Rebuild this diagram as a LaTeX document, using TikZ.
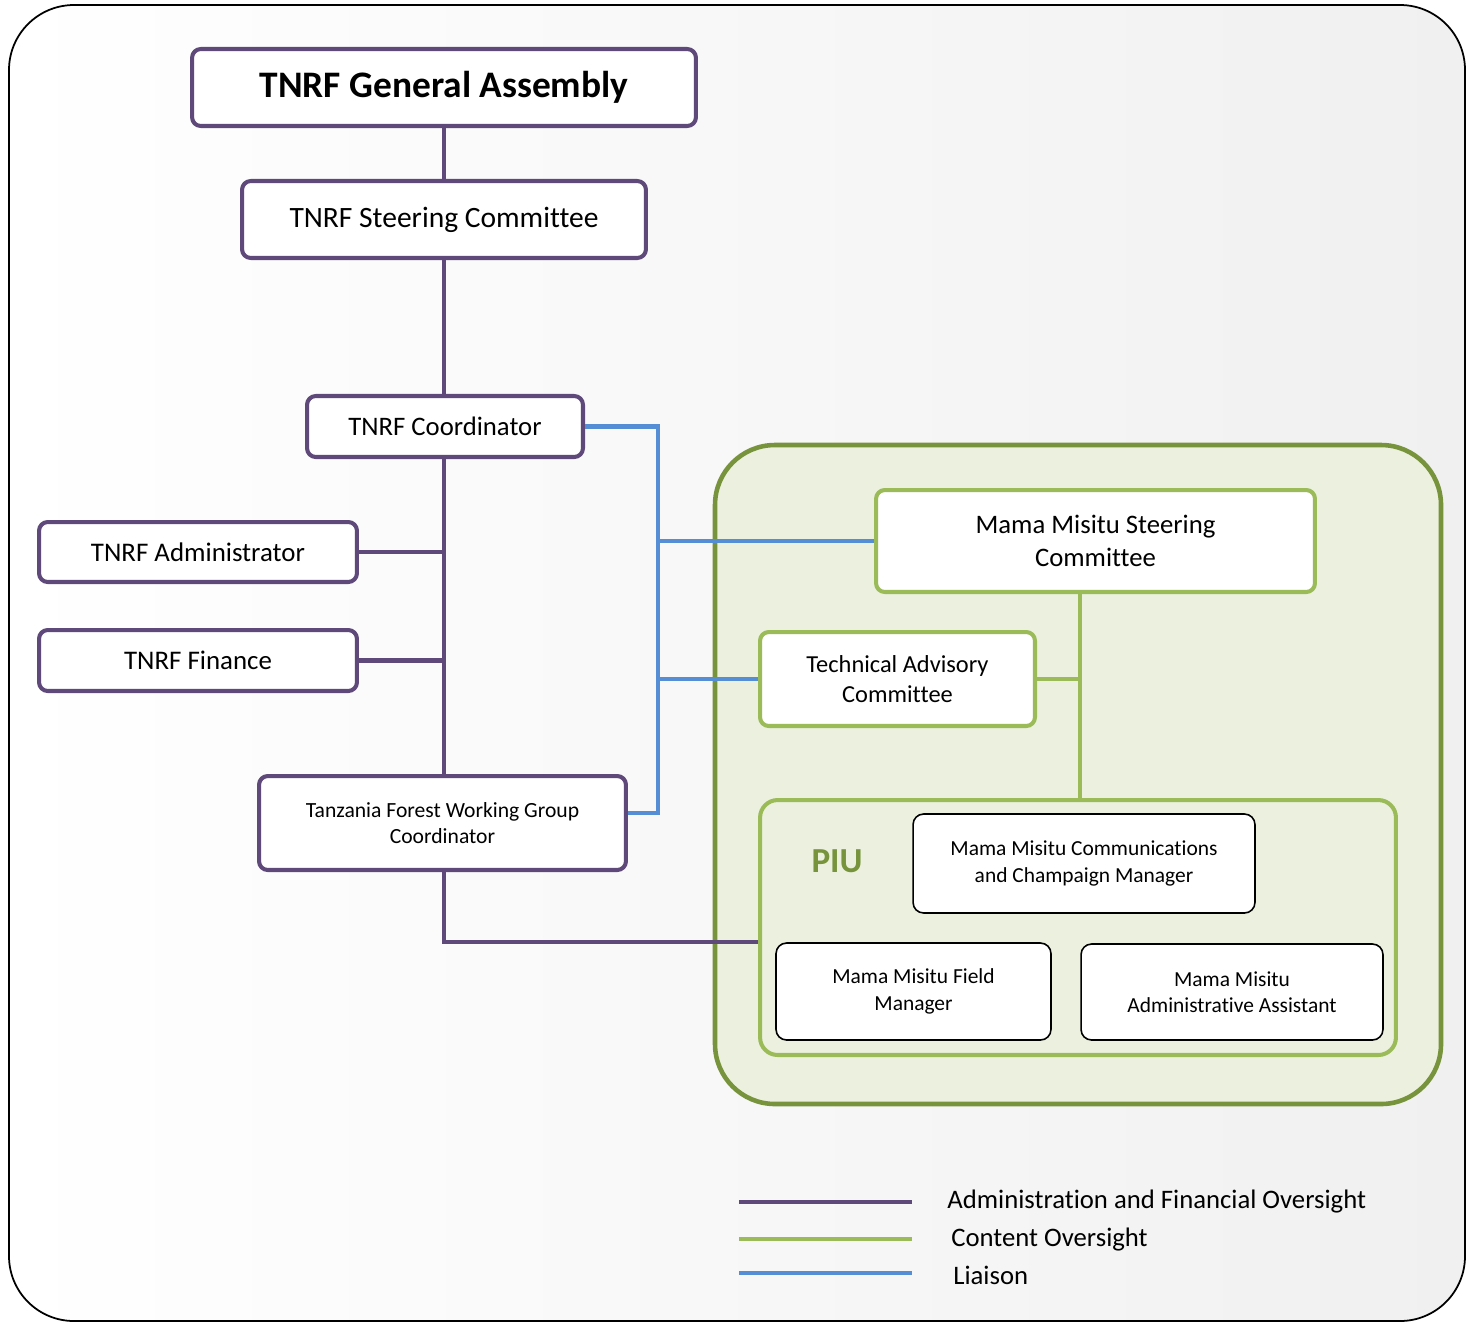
\documentclass[tikz,border=0pt]{standalone}
\usepackage{fontspec}
\setmainfont{Carlito}[Ligatures={NoCommon}]
\usetikzlibrary{calc}
\definecolor{admcol}{HTML}{5F497A}
\definecolor{contcol}{HTML}{9BBB59}
\definecolor{darkgreen}{HTML}{77933C}
\definecolor{liacol}{HTML}{558ED5}
\definecolor{piufill}{HTML}{EBF1DE}
\definecolor{bggray}{HTML}{F0F0F0}
\tikzset{
  purplebox/.style={draw=admcol,line width=2.3pt,fill=white,rounded corners=5pt,align=center,inner sep=0pt},
  greenbox/.style={draw=contcol,line width=2.3pt,fill=white,rounded corners=5pt,align=center,inner sep=0pt},
  unitbox/.style={draw=black,line width=0.9pt,fill=white,rounded corners=6pt,align=center,inner sep=0pt,font=\fontsize{12.2}{15}\selectfont},
  admline/.style={draw=admcol,line width=2.3pt},
  contline/.style={draw=contcol,line width=2.3pt},
  lialine/.style={draw=liacol,line width=2.3pt},
}
\begin{document}
\begin{tikzpicture}[x=0.02cm,y=-0.02cm]
  \useasboundingbox (0,0) rectangle (1466,1323);
  % background
  \shade[left color=white,right color=bggray,rounded corners=1.3cm] (9,5) rectangle (1465,1321);
  \draw[line width=1pt,rounded corners=1.3cm] (9,5) rectangle (1465,1321);
  % Mama Misitu area
  \draw[draw=darkgreen,fill=piufill,line width=2.6pt,rounded corners=1.2cm] (715,445) rectangle (1441,1104);

  % TNRF side
  \node[purplebox,minimum width=10.08cm,minimum height=1.54cm,font=\fontsize{21.3}{25}\bfseries] (ga) at (444,87.5) {\raisebox{-2pt}{TNRF General Assembly}};
  \node[purplebox,minimum width=8.08cm,minimum height=1.54cm,font=\fontsize{16.8}{20}\selectfont] (sc) at (444,219.5) {TNRF Steering Committee};
  \node[purplebox,minimum width=5.52cm,minimum height=1.22cm,font=\fontsize{15.2}{18}\selectfont] (coord) at (445,426.5) {TNRF Coordinator};
  \node[purplebox,minimum width=6.36cm,minimum height=1.2cm,font=\fontsize{15.3}{18}\selectfont] (admin) at (198,552) {TNRF Administrator};
  \node[purplebox,minimum width=6.36cm,minimum height=1.22cm,font=\fontsize{15.3}{18}\selectfont] (fin) at (198,660.5) {TNRF Finance};
  \node[purplebox,minimum width=7.34cm,minimum height=1.88cm,font=\fontsize{12.3}{15}\selectfont] (tfwg) at (442.5,823) {Tanzania Forest Working Group\\Coordinator};

  % Mama Misitu side
  \node[greenbox,minimum width=8.78cm,minimum height=2.04cm,font=\fontsize{15.2}{19}\selectfont] (mmsc) at (1095.5,541) {Mama Misitu Steering\\Committee};
  \node[greenbox,minimum width=5.5cm,minimum height=1.88cm,font=\fontsize{13.9}{17}\selectfont] (tac) at (897.5,679) {Technical Advisory\\Committee};
  \node[draw=contcol,fill=piufill,line width=2.3pt,rounded corners=10pt,minimum width=12.72cm,minimum height=5.1cm,inner sep=0pt] (piu) at (1078,927.5) {};
  \node[text=darkgreen,font=\fontsize{20}{24}\bfseries] (piulabel) at (837,861) {PIU};
  \node[unitbox,minimum width=6.84cm,minimum height=1.98cm] (comm) at (1084,863.5) {Mama Misitu Communications\\and Champaign Manager};
  \node[unitbox,minimum width=5.5cm,minimum height=1.94cm] (field) at (913.5,991.5) {Mama Misitu Field\\Manager};
  \node[unitbox,minimum width=6.04cm,minimum height=1.92cm] (asst) at (1232,992) {Mama Misitu\\Administrative Assistant};

  % administration and financial oversight
  \draw[admline] (ga.south) -- (sc.north);
  \draw[admline] (sc.south) -- (sc.south |- coord.north);
  \draw[admline] (sc.south |- coord.south) -- (sc.south |- tfwg.north);
  \draw[admline] (admin.east) -- (admin.east -| sc.south);
  \draw[admline] (fin.east) -- (fin.east -| sc.south);
  \draw[admline] (sc.south |- tfwg.south) |- (piu.west |- field.north);

  % liaison
  \coordinate (bus) at (658,813);
  \draw[lialine] (coord.east) -| (bus) -- (bus -| tfwg.east);
  \draw[lialine] (mmsc.west) -- (mmsc.west -| bus);
  \draw[lialine] (tac.west) -- (tac.west -| bus);

  % content oversight
  \coordinate (gx) at (1080,700);
  \draw[contline] (mmsc.south -| gx) -- (piu.north -| gx);
  \draw[contline] (tac.east) -- (tac.east -| gx);

  % legend
  \coordinate (la1) at (739,1202);
  \coordinate (lb1) at (912,1202);
  \coordinate (la2) at (739,1239);
  \coordinate (lb2) at (912,1239);
  \coordinate (la3) at (739,1273);
  \coordinate (lb3) at (912,1273);
  \draw[admline] (la1) -- (lb1);
  \draw[contline] (la2) -- (lb2);
  \draw[lialine] (la3) -- (lb3);
  \node[anchor=west,inner sep=0pt,font=\fontsize{15.2}{18}\selectfont] (t1) at (947,1201) {Administration and Financial Oversight};
  \node[anchor=west,inner sep=0pt,font=\fontsize{15.2}{18}\selectfont] (t2) at (951,1239) {Content Oversight};
  \node[anchor=west,inner sep=0pt,font=\fontsize{15.2}{18}\selectfont] (t3) at (953,1275) {Liaison};
\end{tikzpicture}
\end{document}
